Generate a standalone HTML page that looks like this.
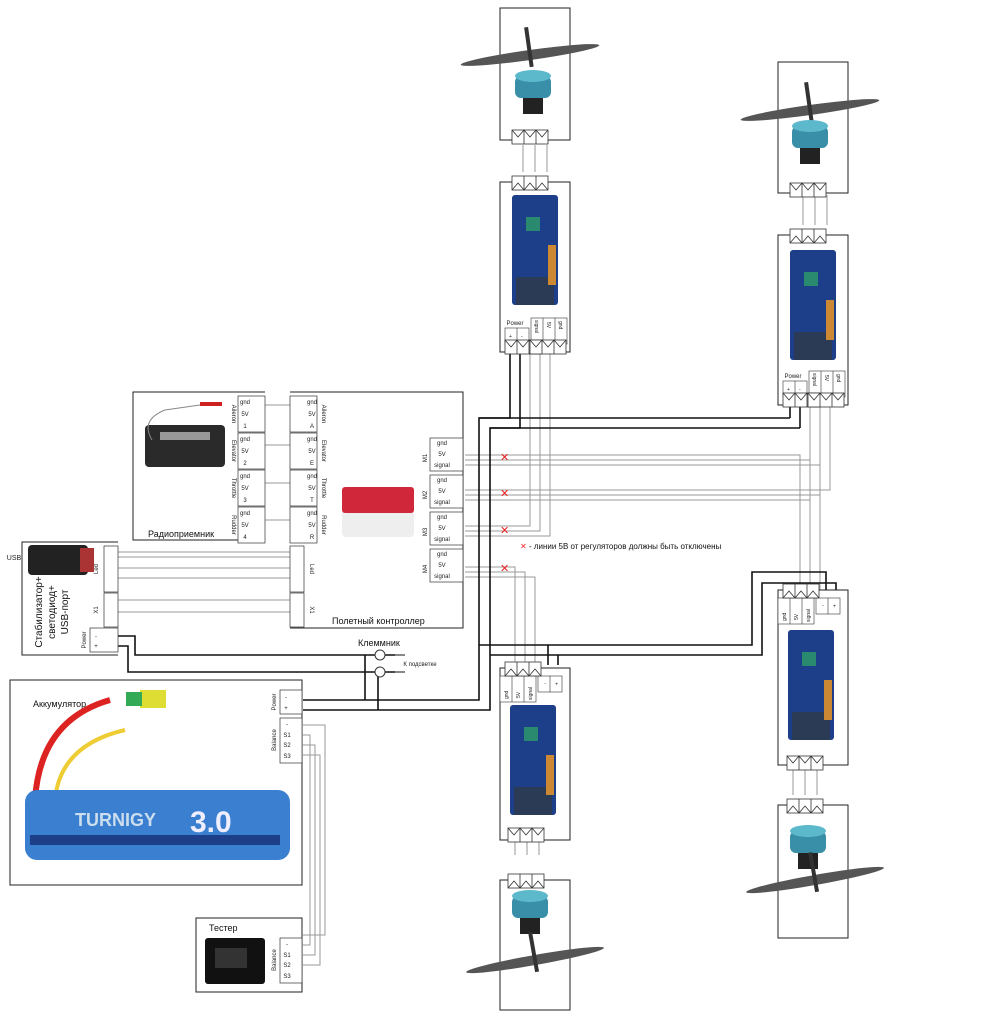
<!DOCTYPE html>
<html><head><meta charset="utf-8"><style>
html,body{margin:0;padding:0;background:#fff}
svg{display:block;font-family:"Liberation Sans","Noto Sans CJK SC",sans-serif}
</style></head><body>
<svg width="1004" height="1024" viewBox="0 0 1004 1024" xmlns="http://www.w3.org/2000/svg">
<defs>
<g id="hconn"><rect x="0" y="0" width="36" height="14" fill="#fff" stroke="#333" stroke-width="0.8"/><path d="M0,0 L6,7 L12,0 L18,7 L24,0 L30,7 L36,0 M12,0V14 M24,0V14" fill="none" stroke="#333" stroke-width="0.8"/></g>
<g id="hconnU"><rect x="0" y="0" width="36" height="14" fill="#fff" stroke="#333" stroke-width="0.8"/><path d="M0,14 L6,7 L12,14 L18,7 L24,14 L30,7 L36,14 M12,0V14 M24,0V14" fill="none" stroke="#333" stroke-width="0.8"/></g>
<g id="prop"><ellipse cx="0" cy="0" rx="70" ry="5" fill="#555"/><rect x="-2" y="-28" width="4" height="40" fill="#333"/></g>
<g id="motor"><rect x="-18" y="-14" width="36" height="22" rx="6" fill="#3a8fa8"/><ellipse cx="0" cy="-14" rx="18" ry="6" fill="#5cb9cc"/><rect x="-10" y="8" width="20" height="16" fill="#222"/></g>
<g id="esc"><rect x="0" y="0" width="46" height="110" rx="3" fill="#1d3f8a"/><rect x="14" y="22" width="14" height="14" fill="#2a8a70"/><rect x="4" y="82" width="38" height="28" fill="#2b3a55"/><rect x="36" y="50" width="8" height="40" fill="#c83"/></g>
<g id="lblD" font-size="5" fill="#222"><rect x="0" y="0" width="24" height="16" fill="#fff" stroke="#333" stroke-width=".6"/><path d="M12,0V16" stroke="#333" stroke-width=".6"/><text x="4" y="10">+</text><text x="16" y="10">-</text><rect x="26" y="-10" width="36" height="26" fill="#fff" stroke="#333" stroke-width=".6"/><path d="M38,-10V16M50,-10V16" stroke="#333" stroke-width=".6"/><text transform="translate(30 -8) rotate(90)">signal</text><text transform="translate(42 -6) rotate(90)">5V</text><text transform="translate(54 -7) rotate(90)">gnd</text></g>
</defs>
<g fill="none" stroke="#999" stroke-width="1">
<path d="M465,455H800V590 M465,460H810V590 M465,465H820V590"/>
<path d="M465,490H830V400 M465,495H820V400 M465,500H810V400"/>
<path d="M465,526H530V350 M465,531H540V350 M465,536H550V350"/>
<path d="M465,567H515V668 M465,572H525V668 M465,577H535V668"/>
<path d="M118,552H290 M118,557H290 M118,568H290 M118,578H290 M118,600H290 M118,612H290"/>
<path d="M265,405H290 M265,445H290 M265,483H290 M265,520H290"/>
<path d="M535,145V172 M523,145V172 M547,145V172 M815,195V225 M803,195V225 M827,195V225 M515,830V855 M527,830V855 M539,830V855 M793,768V795 M805,768V795 M817,768V795"/>
<path d="M303,735H310V945H303 M303,745H315V955H303 M303,755H320V965H303 M303,725H325V935H303"/>
</g>
<g fill="none" stroke="#111" stroke-width="1.6">
<path d="M510,352V418H479V700H303 M520,352V428H490V710H303"/>
<path d="M790,405V418 M800,405V428 M479,418H790 M490,428H800"/>
<path d="M479,645H752V572H826V590 M490,655H762V583H836V590"/>
<path d="M548,665V645 M558,665V655"/>
<path d="M118,636H135V655H395 M118,646H128V672H395"/>
<path d="M365,655V700 M378,672V710"/>
</g>
<path d="M395,655H405 M395,672H405" stroke="#111"/>
<circle cx="380" cy="655" r="5" fill="#fff" stroke="#333"/><circle cx="380" cy="672" r="5" fill="#fff" stroke="#333"/>
<g fill="none" stroke="#222" stroke-width="1">
<rect x="500" y="8" width="70" height="132"/><rect x="500" y="182" width="70" height="170"/>
<rect x="778" y="62" width="70" height="131"/><rect x="778" y="235" width="70" height="170"/>
<rect x="500" y="668" width="70" height="172"/><rect x="500" y="880" width="70" height="130"/>
<rect x="778" y="590" width="70" height="175"/><rect x="778" y="805" width="70" height="133"/>
<path d="M265,392H133V540H265 M290,392H463V628H290"/>
<path d="M118,542H22V655H118"/>
<rect x="10" y="680" width="292" height="205"/>
<rect x="196" y="918" width="106" height="74"/>
</g>
<use href="#hconn" x="512" y="130"/><use href="#hconnU" x="512" y="176"/>
<use href="#hconn" x="790" y="183"/><use href="#hconnU" x="790" y="229"/>
<use href="#lblD" x="505" y="328"/><use href="#lblD" x="783" y="381"/>
<use href="#hconn" x="505" y="340"/><use href="#hconn" x="530" y="340"/><use href="#hconn" x="783" y="393"/><use href="#hconn" x="808" y="393"/>
<g transform="rotate(180 535 690)"><use href="#lblD" x="508" y="688"/></g>
<g transform="rotate(180 813 612)"><use href="#lblD" x="786" y="610"/></g>
<use href="#hconnU" x="505" y="662"/><use href="#hconnU" x="783" y="584"/>
<use href="#hconn" x="508" y="828"/><use href="#hconnU" x="508" y="874"/>
<use href="#hconn" x="787" y="756"/><use href="#hconnU" x="787" y="799"/>
<g stroke="#333" stroke-width=".7" fill="#fff">
<rect x="238" y="396" width="27" height="36"/><rect x="238" y="433" width="27" height="36"/><rect x="238" y="470" width="27" height="36"/><rect x="238" y="507" width="27" height="36"/>
<rect x="290" y="396" width="27" height="36"/><rect x="290" y="433" width="27" height="36"/><rect x="290" y="470" width="27" height="36"/><rect x="290" y="507" width="27" height="36"/>
<rect x="430" y="438" width="33" height="33"/><rect x="430" y="475" width="33" height="33"/><rect x="430" y="512" width="33" height="33"/><rect x="430" y="549" width="33" height="33"/>
<rect x="290" y="546" width="14" height="46"/><rect x="290" y="593" width="14" height="34"/>
<rect x="104" y="546" width="14" height="46"/><rect x="104" y="593" width="14" height="34"/><rect x="90" y="628" width="28" height="24"/>
<rect x="280" y="690" width="22" height="24"/><rect x="280" y="718" width="22" height="45"/><rect x="280" y="938" width="22" height="45"/>
</g>
<g font-size="6" fill="#222" text-anchor="middle">
<text x="245" y="404">gnd</text><text x="245" y="416">5V</text><text x="245" y="428">1</text>
<text x="245" y="441">gnd</text><text x="245" y="453">5V</text><text x="245" y="465">2</text>
<text x="245" y="478">gnd</text><text x="245" y="490">5V</text><text x="245" y="502">3</text>
<text x="245" y="515">gnd</text><text x="245" y="527">5V</text><text x="245" y="539">4</text>
<text x="312" y="404">gnd</text><text x="312" y="416">5V</text><text x="312" y="428">A</text>
<text x="312" y="441">gnd</text><text x="312" y="453">5V</text><text x="312" y="465">E</text>
<text x="312" y="478">gnd</text><text x="312" y="490">5V</text><text x="312" y="502">T</text>
<text x="312" y="515">gnd</text><text x="312" y="527">5V</text><text x="312" y="539">R</text>
<text x="442" y="445">gnd</text><text x="442" y="456">5V</text><text x="442" y="467">signal</text>
<text x="442" y="482">gnd</text><text x="442" y="493">5V</text><text x="442" y="504">signal</text>
<text x="442" y="519">gnd</text><text x="442" y="530">5V</text><text x="442" y="541">signal</text>
<text x="442" y="556">gnd</text><text x="442" y="567">5V</text><text x="442" y="578">signal</text>
<text x="427" y="458" transform="rotate(-90 427 458)">M1</text><text x="427" y="495" transform="rotate(-90 427 495)">M2</text>
<text x="427" y="532" transform="rotate(-90 427 532)">M3</text><text x="427" y="569" transform="rotate(-90 427 569)">M4</text>
<text x="232" y="414" transform="rotate(90 232 414)">Aileron</text><text x="232" y="451" transform="rotate(90 232 451)">Elevator</text>
<text x="232" y="488" transform="rotate(90 232 488)">Throttle</text><text x="232" y="525" transform="rotate(90 232 525)">Rudder</text>
<text x="322" y="414" transform="rotate(90 322 414)">Aileron</text><text x="322" y="451" transform="rotate(90 322 451)">Elevator</text>
<text x="322" y="488" transform="rotate(90 322 488)">Throttle</text><text x="322" y="525" transform="rotate(90 322 525)">Rudder</text>
<text x="310" y="569" transform="rotate(90 310 569)">Led</text><text x="310" y="610" transform="rotate(90 310 610)">X1</text>
<text x="98" y="569" transform="rotate(-90 98 569)">Led</text><text x="98" y="610" transform="rotate(-90 98 610)">X1</text>
<text x="86" y="640" transform="rotate(-90 86 640)">Power</text>
<text x="96" y="638">-</text><text x="96" y="648">+</text>
<text x="276" y="702" transform="rotate(-90 276 702)">Power</text><text x="286" y="699">-</text><text x="286" y="710">+</text>
<text x="276" y="740" transform="rotate(-90 276 740)">Balance</text><text x="287" y="726">-</text><text x="287" y="737">S1</text><text x="287" y="747">S2</text><text x="287" y="758">S3</text>
<text x="276" y="960" transform="rotate(-90 276 960)">Balance</text><text x="287" y="946">-</text><text x="287" y="957">S1</text><text x="287" y="967">S2</text><text x="287" y="978">S3</text>
<text x="515" y="325">Power</text><text x="793" y="378">Power</text>
<text x="14" y="560" font-size="7">USB</text>
<text x="420" y="666" font-size="6">К подсветке</text>
</g>
<g font-size="9" fill="#111">
<text x="148" y="537">Радиоприемник</text>
<text x="332" y="624">Полетный контроллер</text>
<text x="358" y="646">Клеммник</text>
<text x="33" y="707">Аккумулятор</text>
<text x="209" y="931">Тестер</text>
<text x="520" y="549" font-size="8"><tspan fill="#e22">✕</tspan> - линии 5В от регуляторов должны быть отключены</text>
</g>
<g font-size="10" fill="#111" text-anchor="middle">
<text transform="translate(42 612) rotate(-90)">Стабилизатор+</text>
<text transform="translate(55 612) rotate(-90)">светодиод+</text>
<text transform="translate(68 612) rotate(-90)">USB-порт</text>
</g>
<g fill="#e22" font-size="11"><text x="500" y="461">✕</text><text x="500" y="497">✕</text><text x="500" y="534">✕</text><text x="500" y="572">✕</text></g>
<g transform="translate(530,55) rotate(-8)"><use href="#prop"/></g><use href="#motor" x="533" y="90"/>
<g transform="translate(810,110) rotate(-8)"><use href="#prop"/></g><use href="#motor" x="810" y="140"/>
<use href="#motor" x="530" y="910"/><g transform="translate(535,960) rotate(-10)"><use href="#prop"/></g>
<use href="#motor" x="808" y="845"/><g transform="translate(815,880) rotate(-10)"><use href="#prop"/></g>
<use href="#esc" x="512" y="195"/><use href="#esc" x="790" y="250"/>
<use href="#esc" x="510" y="705"/><use href="#esc" x="788" y="630"/>
<rect x="145" y="425" width="80" height="42" rx="4" fill="#2a2a2a"/><rect x="160" y="432" width="50" height="8" fill="#999"/>
<path d="M152,440 Q140,420 165,410 L200,405" stroke="#888" fill="none"/><rect x="200" y="402" width="22" height="4" fill="#c22"/>
<rect x="342" y="487" width="72" height="50" rx="4" fill="#eee"/><rect x="342" y="487" width="72" height="26" rx="3" fill="#d0283a"/>
<rect x="28" y="545" width="60" height="30" rx="4" fill="#222"/><rect x="80" y="548" width="14" height="24" fill="#a33"/>
<path d="M110,700 Q40,720 35,800" stroke="#d22" stroke-width="6" fill="none"/>
<path d="M125,730 Q60,745 55,800" stroke="#ec3" stroke-width="4" fill="none"/>
<rect x="140" y="690" width="26" height="18" fill="#dd3"/><rect x="126" y="692" width="16" height="14" fill="#3a5"/>
<rect x="25" y="790" width="265" height="70" rx="12" fill="#3a7fd0"/><rect x="30" y="835" width="250" height="10" fill="#1d3f8a"/>
<text x="75" y="826" font-size="18" font-weight="bold" fill="#cde" font-family="Liberation Sans">TURNIGY</text><text x="190" y="832" font-size="30" font-weight="bold" fill="#eef" font-family="Liberation Sans">3.0</text>
<rect x="205" y="938" width="60" height="46" rx="3" fill="#111"/><rect x="215" y="948" width="32" height="20" fill="#333"/>
</svg>
</body></html>
